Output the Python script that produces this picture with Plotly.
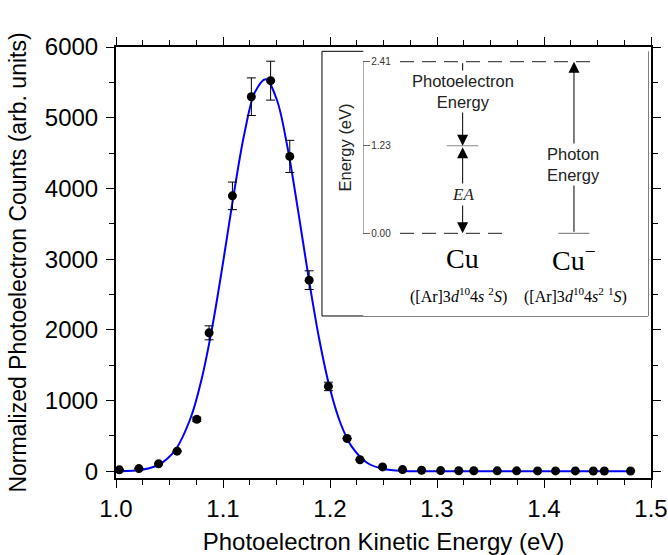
import plotly.graph_objects as go

# ---------------- data ----------------
kinetic_energy = [1.0031, 1.0214, 1.0398, 1.0571, 1.0755, 1.0870, 1.1088, 1.1265,
                  1.1445, 1.1624, 1.1805, 1.1985, 1.2160, 1.2280, 1.2491, 1.2678,
                  1.2856, 1.3034, 1.3203, 1.3344, 1.3563, 1.3744, 1.3940, 1.4108,
                  1.4293, 1.4461, 1.4564, 1.4809]
counts = [20, 38, 105, 285, 735, 1958, 3895, 5297,
          5524, 4453, 2703, 1200, 463, 163, 62, 24,
          14, 10, 8, 8, 6, 6, 5, 5,
          5, 4, 4, 4]
count_err = [0, 0, 0, 0, 30, 99, 195, 266,
             275, 227, 132, 60, 0, 0, 0, 0,
             0, 0, 0, 0, 0, 0, 0, 0,
             0, 0, 0, 0]

fit_x = [1.000, 1.010, 1.020, 1.030, 1.040, 1.055, 1.070, 1.080, 1.090, 1.100,
         1.110, 1.120, 1.130, 1.140, 1.150, 1.160, 1.170, 1.180, 1.190, 1.200,
         1.210, 1.220, 1.235, 1.250, 1.270, 1.300, 1.400, 1.480]
fit_y = [2, 5, 15, 39, 93, 293, 764, 1302, 2043, 2948,
         3912, 4777, 5365, 5545, 5268, 4604, 3703, 2739, 1864, 1166,
         672, 356, 117, 32, 4, 0, 0, 0]

x_ticks = [1.0, 1.1, 1.2, 1.3, 1.4, 1.5]
y_ticks = [0, 1000, 2000, 3000, 4000, 5000, 6000]

# inset energy-level diagram
level_ev = [0.00, 1.23, 2.41]          # ground, EA, photon energy
EA_EV = 1.23
PHOTON_EV = 2.41
species = ["Cu", "Cu<sup>−</sup>"]
configs = ["([Ar]3<i>d</i><sup>10</sup>4<i>s</i> <sup>2</sup><i>S</i>)",
           "([Ar]3<i>d</i><sup>10</sup>4<i>s</i><sup>2</sup> <sup>1</sup><i>S</i>)"]

# ---------------- styling / layout constants ----------------
SANS = "Liberation Sans, Arial, sans-serif"
SERIF = "Liberation Serif, Times New Roman, serif"
COL_CU = 0.349      # x2 position of Cu column
COL_CUM = 0.740     # x2 position of Cu- column
CFG_X = [0.333, 0.747]

fig = go.Figure()

fig.add_trace(go.Scatter(
    x=fit_x, y=fit_y, mode="lines", line=dict(color="#0000ff", width=2, shape="spline"),
    hoverinfo="skip", showlegend=False))

fig.add_trace(go.Scatter(
    x=kinetic_energy, y=counts, mode="markers",
    marker=dict(color="black", size=9),
    error_y=dict(type="data", array=count_err, visible=True, color="black",
                 thickness=1, width=4.5),
    showlegend=False))

axis_common = dict(showline=True, linecolor="black", linewidth=2, mirror="ticks",
                   ticks="outside", ticklen=8, tickwidth=1.3, tickcolor="black",
                   showgrid=False, zeroline=False, automargin=False,
                   tickfont=dict(family=SANS, size=24, color="black"))

fig.update_layout(
    width=668, height=555,
    margin=dict(l=116, r=17, t=47, b=77),
    paper_bgcolor="white", plot_bgcolor="white",
    xaxis=dict(range=[1.0, 1.5], tickvals=x_ticks, tickformat=".1f",
               minor=dict(dtick=0.025, ticks="outside", ticklen=5, tickcolor="black", tickwidth=1),
               title=dict(text="Photoelectron Kinetic Energy (eV)",
                          font=dict(family=SANS, size=24, color="black"), standoff=14),
               **axis_common),
    yaxis=dict(range=[-95, 6000], tickvals=y_ticks,
               minor=dict(dtick=500, ticks="outside", ticklen=5, tickcolor="black", tickwidth=1),
               title=dict(text="Normalized Photoelectron Counts (arb. units)",
                          font=dict(family=SANS, size=23, color="black"), standoff=12),
               ticklabelstandoff=3,
               **axis_common),
    xaxis2=dict(domain=[0.4622, 0.9944], range=[0, 1], anchor="y2", visible=False,
                fixedrange=True),
    yaxis2=dict(domain=[0.3759, 0.993], range=[-1.161, 2.574], anchor="x2",
                showline=False, showgrid=False, zeroline=False, automargin=False,
                ticks="inside", ticklen=7, tickwidth=1, tickcolor="#666666",
                tickvals=level_ev, tickformat=".2f", ticklabelposition="inside",
                tickfont=dict(family=SANS, size=10, color="#333333"),
                fixedrange=True),
)

shapes = []
# inset frame
shapes.append(dict(type="rect", xref="paper", yref="paper", x0=0.385, x1=0.9944,
                   y0=0.3759, y1=0.99, line=dict(color="black", width=1),
                   fillcolor="white", layer="below"))
# inset energy axis line
shapes.append(dict(type="line", xref="x2", yref="y2", x0=0, x1=0, y0=level_ev[0], y1=level_ev[2],
                   line=dict(color="#666666", width=1)))
# dashed levels
shapes.append(dict(type="line", xref="x2", yref="y2", x0=0.129, x1=0.814, y0=PHOTON_EV, y1=PHOTON_EV,
                   line=dict(color="#222222", width=1, dash="14px,8px")))
shapes.append(dict(type="line", xref="x2", yref="y2", x0=0.129, x1=0.504, y0=0.0, y1=0.0,
                   line=dict(color="#222222", width=1, dash="14px,8px")))
# solid level markers
shapes.append(dict(type="line", xref="x2", yref="y2", x0=0.293, x1=0.404, y0=EA_EV, y1=EA_EV,
                   line=dict(color="#888888", width=1.2)))
shapes.append(dict(type="line", xref="x2", yref="y2", x0=0.685, x1=0.794, y0=0.0, y1=0.0,
                   line=dict(color="#888888", width=1.2)))
fig.update_layout(shapes=shapes)

ann = []
arrow_style = dict(xref="x2", yref="y2", axref="x2", ayref="y2", showarrow=True,
                   arrowhead=2, arrowsize=2.2, arrowwidth=1, arrowcolor="black",
                   standoff=0, startstandoff=0, text="")
# photoelectron energy arrow (2.41 -> 1.23)
ann.append(dict(x=COL_CU, y=EA_EV, ax=COL_CU, ay=PHOTON_EV, **arrow_style))
# EA double arrow (1.23 <-> 0)
ann.append(dict(x=COL_CU, y=0.0, ax=COL_CU, ay=EA_EV, arrowside="end+start", **arrow_style))
# photon arrow (0 -> 2.41)
ann.append(dict(x=COL_CUM, y=PHOTON_EV, ax=COL_CUM, ay=0.0, **arrow_style))

# inset axis title, centred on the drawn energy axis
ann.append(dict(x=0.428, y=(level_ev[0] + level_ev[2]) / 2, xref="paper", yref="y2",
                showarrow=False, text="Energy (eV)", textangle=-90,
                font=dict(family=SANS, size=16.5, color="#222222")))
ann.append(dict(x=COL_CU, y=1.99, xref="x2", yref="y2", showarrow=False,
                text="Photoelectron<br>Energy", bgcolor="white",
                font=dict(family=SANS, size=16.5, color="#222222")))
ann.append(dict(x=COL_CU, y=0.54, xref="x2", yref="y2", showarrow=False,
                text="<i>EA</i>", bgcolor="white",
                font=dict(family=SERIF, size=17, color="#222222")))
ann.append(dict(x=COL_CUM, y=0.96, xref="x2", yref="y2", showarrow=False,
                text="Photon<br>Energy", bgcolor="white",
                font=dict(family=SANS, size=16.5, color="#222222")))
# species labels
for xc, s in zip([COL_CU, COL_CUM], species):
    ann.append(dict(x=xc, y=-0.35, xref="x2", yref="y2", showarrow=False, text=s,
                    font=dict(family=SERIF, size=28, color="black")))
for xc, c in zip(CFG_X, configs):
    ann.append(dict(x=xc, y=-0.87, xref="x2", yref="y2", showarrow=False, text=c,
                    font=dict(family=SERIF, size=16, color="black")))
fig.update_layout(annotations=ann)

fig.write_html("out.html")
